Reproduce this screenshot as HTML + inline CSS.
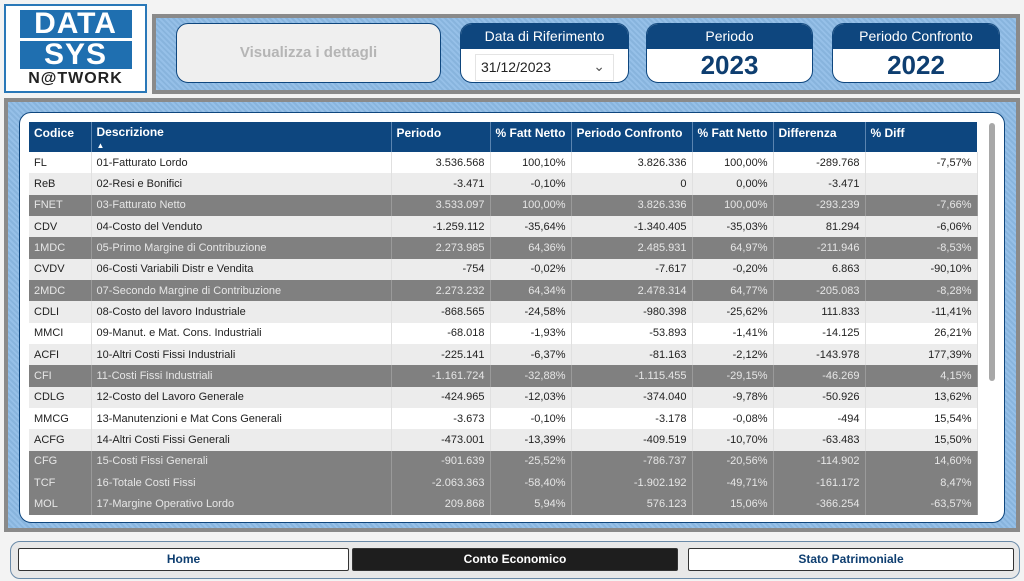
<!DOCTYPE html>
<html><head><meta charset="utf-8">
<style>
*{box-sizing:border-box;margin:0;padding:0}
body{width:1024px;height:581px;background:#f3f3f3;font-family:"Liberation Sans",sans-serif;position:relative;overflow:hidden}
.abs{position:absolute}
.blue{background:#8dbbe6;background-image:repeating-linear-gradient(45deg,rgba(255,255,255,.08) 0 2px,rgba(0,0,0,.04) 2px 4px)}
.card{position:absolute;background:#fff;border:1px solid #0e467e;border-radius:12px;overflow:hidden}
.card .hd{background:#0e467e;color:#fff;text-align:center;font-size:14px;height:25px;line-height:25px}
.card .val{text-align:center;font-size:26px;font-weight:bold;color:#0e3e70;line-height:32px}
table{border-collapse:collapse;table-layout:fixed;font-size:11px}
th{background:#0d467f;color:#fff;text-align:left;font-weight:bold;height:28px;padding:0 5px;border-right:1px solid #5a84b0;vertical-align:top;padding-top:4px;font-size:12px}
td{height:21.35px;padding:0 5px;border-right:1px solid #e0e0e0;color:#222;white-space:nowrap;overflow:hidden}
td.n{text-align:right}
tr.l td{background:#ececec}
tr.w td{background:#fff}
tr.d td{background:#808080;color:#e6e6e6;border-right-color:#9a9a9a}
.nav{position:absolute;top:548px;height:23px;border:1px solid #333;font-size:12px;font-weight:bold;text-align:center;line-height:21px;border-radius:2px}
</style></head><body>
<div class="abs" style="left:4px;top:4px;width:143px;height:89px;background:#fff;border:2px solid #2a78b8;text-align:center">
 <div style="margin:4px auto 0;width:112px;background:#1f6fb0;color:#fff;font-weight:900;font-size:30px;line-height:28px;letter-spacing:1px">DATA</div>
 <div style="margin:3px auto 0;width:112px;background:#1f6fb0;color:#fff;font-weight:900;font-size:30px;line-height:28px;letter-spacing:1px">SYS</div>
 <div style="font-size:16px;font-weight:900;color:#222;letter-spacing:1px;margin-top:1px">N@TWORK</div>
</div>
<div class="abs blue" style="left:152px;top:14px;width:868px;height:80px;border:4px solid #8a8a8a"></div>
<div class="abs" style="left:176px;top:23px;width:265px;height:60px;background:#efefef;border:1px solid #0e467e;border-radius:12px;color:#b5b5b5;font-size:15px;font-weight:bold;text-align:center;line-height:58px">Visualizza i dettagli</div>
<div class="card" style="left:460px;top:23px;width:169px;height:60px">
 <div class="hd">Data di Riferimento</div>
 <div style="margin:5px 14px 0;height:27px;border:1px solid #e4e4e4;font-size:14px;line-height:25px;padding-left:5px;color:#222;position:relative">31/12/2023<span style="position:absolute;right:8px;top:-1px;color:#555">&#8964;</span></div>
</div>
<div class="card" style="left:646px;top:23px;width:167px;height:60px"><div class="hd">Periodo</div><div class="val">2023</div></div>
<div class="card" style="left:832px;top:23px;width:168px;height:60px"><div class="hd">Periodo Confronto</div><div class="val">2022</div></div>

<div class="abs blue" style="left:4px;top:98px;width:1016px;height:434px;border:4px solid #8a8a8a"></div>
<div class="abs" style="left:19px;top:112px;width:986px;height:411px;background:#fff;border:1px solid #0e467e;border-radius:12px"></div>
<div class="abs" style="left:989px;top:123px;width:6px;height:258px;background:#a8a8a8;border-radius:3px"></div>
<table class="abs" style="left:29px;top:122px;width:948px">
<colgroup><col style="width:62px"><col style="width:300px"><col style="width:99px"><col style="width:81px"><col style="width:121px"><col style="width:81px"><col style="width:92px"><col style="width:112px"></colgroup>
<thead><tr>
<th>Codice</th>
<th style="line-height:12px">Descrizione<br><span style="font-size:8px">&#9650;</span></th>
<th>Periodo</th>
<th>% Fatt Netto</th>
<th>Periodo Confronto</th>
<th>% Fatt Netto</th>
<th>Differenza</th>
<th style="border-right:none">% Diff</th>
</tr></thead>
<tbody id="tb"></tbody></table>

<div class="abs" style="left:10px;top:541px;width:1010px;height:38px;border:1px solid #6a8aa8;border-radius:10px;background:#e8e8e8"></div>
<div class="nav" style="left:18px;width:331px;background:#fff;color:#0e3e70">Home</div>
<div class="nav" style="left:352px;width:326px;background:#1e1e1e;color:#fff">Conto Economico</div>
<div class="nav" style="left:688px;width:326px;background:#fff;color:#0e3e70">Stato Patrimoniale</div>

<script>
const codes=["FL","ReB","FNET","CDV","1MDC","CVDV","2MDC","CDLI","MMCI","ACFI","CFI","CDLG","MMCG","ACFG","CFG","TCF","MOL"];
const descs=["01-Fatturato Lordo","02-Resi e Bonifici","03-Fatturato Netto","04-Costo del Venduto","05-Primo Margine di Contribuzione","06-Costi Variabili Distr e Vendita","07-Secondo Margine di Contribuzione","08-Costo del lavoro Industriale","09-Manut. e Mat. Cons. Industriali","10-Altri Costi Fissi Industriali","11-Costi Fissi Industriali","12-Costo del Lavoro Generale","13-Manutenzioni e Mat Cons Generali","14-Altri Costi Fissi Generali","15-Costi Fissi Generali","16-Totale Costi Fissi","17-Margine Operativo Lordo"];
const periodo=["3.536.568","-3.471","3.533.097","-1.259.112","2.273.985","-754","2.273.232","-868.565","-68.018","-225.141","-1.161.724","-424.965","-3.673","-473.001","-901.639","-2.063.363","209.868"];
const pctFN=["100,10%","-0,10%","100,00%","-35,64%","64,36%","-0,02%","64,34%","-24,58%","-1,93%","-6,37%","-32,88%","-12,03%","-0,10%","-13,39%","-25,52%","-58,40%","5,94%"];
const confronto=["3.826.336","0","3.826.336","-1.340.405","2.485.931","-7.617","2.478.314","-980.398","-53.893","-81.163","-1.115.455","-374.040","-3.178","-409.519","-786.737","-1.902.192","576.123"];
const pctFNc=["100,00%","0,00%","100,00%","-35,03%","64,97%","-0,20%","64,77%","-25,62%","-1,41%","-2,12%","-29,15%","-9,78%","-0,08%","-10,70%","-20,56%","-49,71%","15,06%"];
const diff=["-289.768","-3.471","-293.239","81.294","-211.946","6.863","-205.083","111.833","-14.125","-143.978","-46.269","-50.926","-494","-63.483","-114.902","-161.172","-366.254"];
const pctDiff=["-7,57%","","-7,66%","-6,06%","-8,53%","-90,10%","-8,28%","-11,41%","26,21%","177,39%","4,15%","13,62%","15,54%","15,50%","14,60%","8,47%","-63,57%"];
const darkRows=["FNET","1MDC","2MDC","CFI","CFG","TCF","MOL"];
const tb=document.getElementById('tb');
codes.forEach((c,i)=>{
 const tr=document.createElement('tr');
 tr.className=darkRows.includes(c)?'d':(i%2?'l':'w');
 
 
 const cells=[[c,''],[descs[i],''],[periodo[i],'n'],[pctFN[i],'n'],[confronto[i],'n'],[pctFNc[i],'n'],[diff[i],'n'],[pctDiff[i],'n']];
 cells.forEach(([t,cl])=>{const td=document.createElement('td');td.textContent=t;if(cl)td.className=cl;tr.appendChild(td);});
 tb.appendChild(tr);
});
</script>
</body></html>
